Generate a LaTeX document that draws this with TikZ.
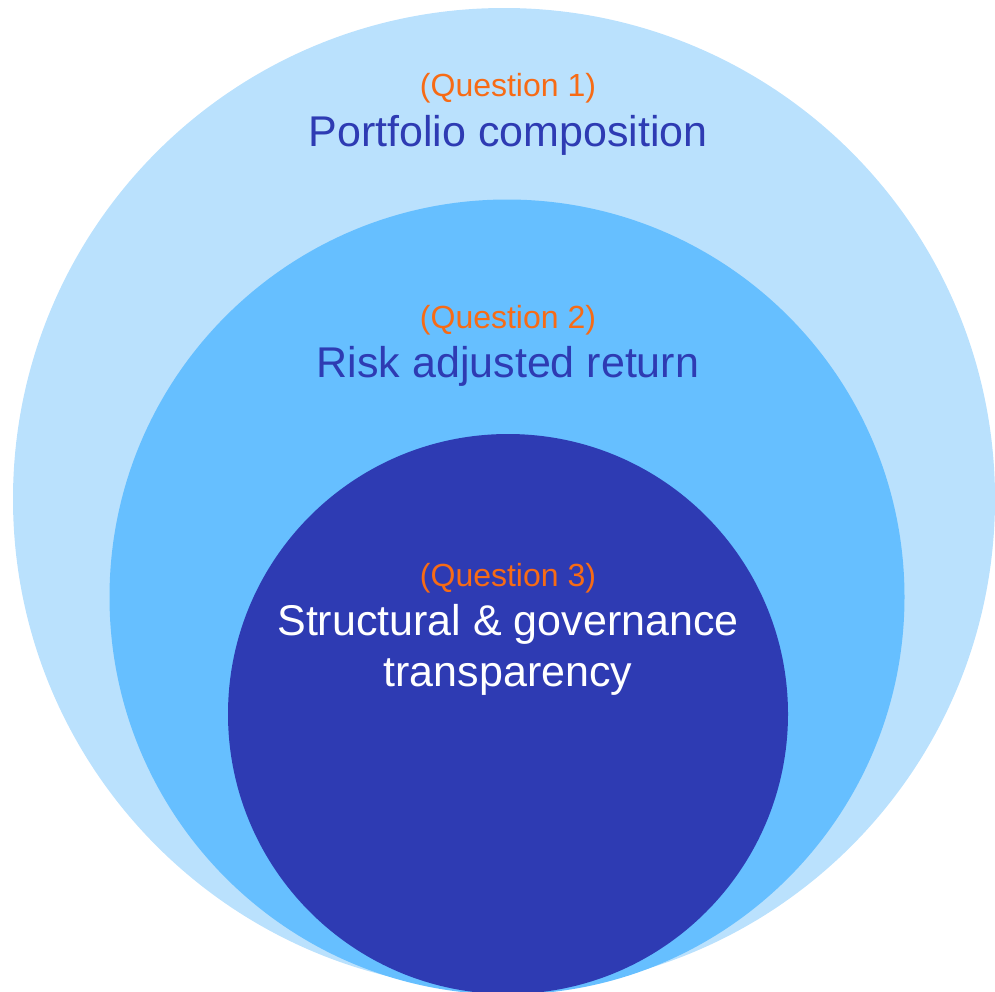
\documentclass[tikz,border=0pt]{standalone}
\usepackage{fontspec}
\setmainfont{Liberation Sans}
\usetikzlibrary{positioning}

\definecolor{ringouter}{HTML}{BAE1FD}
\definecolor{ringmiddle}{HTML}{66BFFF}
\definecolor{ringinner}{HTML}{2E3BB3}
\definecolor{qorange}{HTML}{F76B15}

\tikzset{
  ring/.style={circle, inner sep=0pt, draw=none},
  qlabel/.style={text=qorange, font=\fontsize{32}{38}\selectfont, anchor=base},
  ringtitle/.style={font=\fontsize{43}{51}\selectfont, align=center, anchor=base}
}

\begin{document}
\begin{tikzpicture}[x=1pt, y=-1pt]
  \useasboundingbox (0,0) rectangle (995,991);
  \clip (0,0) rectangle (995,991);

  % the three rings
  \node[ring, fill=ringouter,  minimum size=982pt] (outer)  at (504,499) {};
  \node[ring, fill=ringmiddle, minimum size=795pt] (middle) at (507,597) {};
  \node[ring, fill=ringinner,  minimum size=560pt] (inner)  at (508,714) {};

  % labels
  \node[qlabel] (q1) at (508,96) {(Question 1)};
  \node[ringtitle, text=ringinner] (t1) at (508,146) {Portfolio composition};

  \node[qlabel] (q2) at (508,328) {(Question 2)};
  \node[ringtitle, text=ringinner] (t2) at (508,377) {Risk adjusted return};

  \node[qlabel] (q3) at (508,586) {(Question 3)};
  \node[ringtitle, text=white] (t3) at (508,686) {Structural \& governance\\transparency};
\end{tikzpicture}
\end{document}
